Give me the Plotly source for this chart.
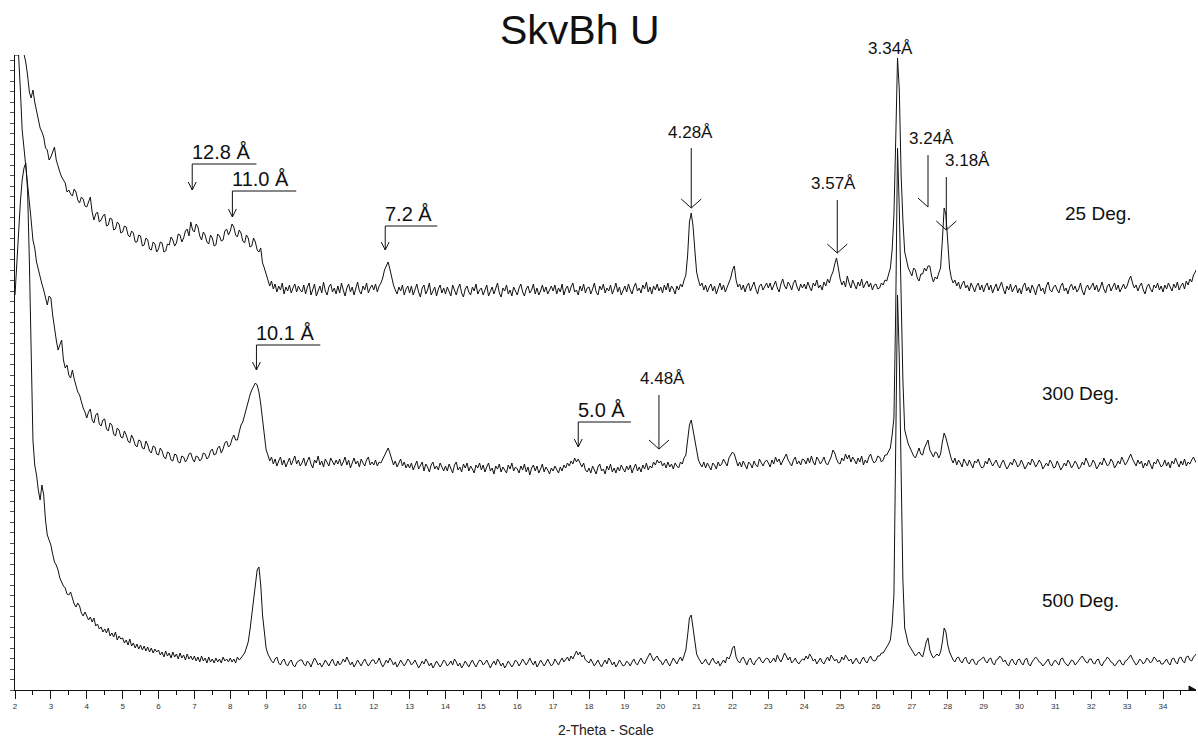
import numpy as np
import plotly.graph_objects as go

# ---------------- data (2-theta step 0.05 deg, starting at 2.00) ----------------
theta_start = 2.0
theta_step = 0.05

counts_25 = [
    310, 305, 300, 292, 285, 276, 268, 255, 238, 232, 240, 228, 218, 210, 202, 198, 193, 182, 180, 170,
    173, 178, 183, 170, 163, 158, 153, 150, 147, 138, 140, 136, 134, 141, 138, 130, 127, 133, 131, 124,
    123, 128, 133, 118, 110, 116, 118, 108, 110, 114, 116, 104, 105, 112, 111, 100, 101, 108, 106, 97,
    98, 104, 103, 95, 93, 99, 97, 88, 88, 95, 94, 84, 85, 92, 90, 81, 80, 88, 86, 78,
    81, 88, 87, 78, 79, 86, 85, 93, 90, 84, 87, 96, 95, 88, 92, 99, 101, 94, 108, 100,
    98, 106, 103, 94, 90, 98, 95, 88, 86, 95, 92, 84, 85, 96, 94, 89, 90, 99, 101, 95,
    99, 106, 103, 95, 93, 100, 97, 89, 87, 95, 92, 83, 84, 92, 88, 80, 78, 82, 67, 62,
    56, 50, 44, 49, 41, 46, 38, 44, 40, 47, 36, 43, 39, 45, 37, 42, 46, 38, 44, 40,
    38, 45, 36, 43, 47, 35, 41, 46, 34, 40, 44, 37, 48, 39, 35, 43, 46, 38, 42, 36,
    44, 37, 47, 40, 34, 42, 46, 38, 43, 35, 41, 48, 39, 36, 44, 40, 47, 37, 42, 45,
    40, 46, 38, 44, 47, 52, 60, 64, 68, 61, 51, 45, 40, 36, 43, 39, 45, 35, 41, 44,
    37, 44, 35, 41, 46, 38, 33, 42, 45, 36, 40, 47, 35, 39, 43, 34, 41, 45, 37, 42,
    36, 43, 39, 34, 45, 40, 35, 42, 46, 37, 33, 41, 44, 38, 35, 43, 39, 46, 36, 40,
    42, 35, 40, 45, 34, 38, 43, 36, 41, 47, 37, 33, 42, 39, 45, 36, 40, 34, 43, 38,
    35, 42, 46, 38, 34, 41, 44, 37, 40, 46, 36, 42, 35, 39, 45, 38, 43, 36, 41, 44,
    39, 45, 36, 42, 38, 46, 35, 41, 44, 37, 43, 47, 38, 40, 35, 44, 39, 46, 37, 42,
    43, 36, 41, 47, 38, 35, 44, 40, 46, 37, 42, 39, 45, 36, 41, 47, 38, 43, 35, 40,
    44, 38, 46, 40, 36, 43, 47, 39, 42, 37, 45, 41, 48, 38, 43, 36, 44, 40, 46, 39,
    43, 37, 45, 40, 47, 38, 44, 41, 36, 44, 40, 46, 43, 50, 55, 75, 108, 117, 104, 80,
    58, 50, 44, 47, 40, 45, 38, 43, 46, 39, 44, 36, 42, 47, 40, 45, 38, 43, 48, 52,
    60, 64, 50, 43, 46, 40, 45, 38, 44, 47, 39, 43, 48, 41, 36, 44, 46, 40, 43, 47,
    42, 47, 40, 45, 49, 42, 38, 46, 51, 44, 41, 48, 45, 40, 47, 50, 43, 39, 46, 42,
    46, 41, 48, 43, 39, 47, 44, 50, 42, 45, 40, 48, 44, 51, 47, 54, 58, 66, 72, 62,
    51, 45, 49, 43, 54, 47, 42, 50, 46, 41, 48, 44, 51, 42, 46, 49, 43, 47, 40, 45,
    46, 41, 42, 47, 45, 50, 49, 55, 62, 80, 115, 190, 272, 240, 155, 110, 78, 70, 62, 58,
    54, 62, 60, 52, 49, 56, 56, 62, 59, 64, 64, 54, 48, 53, 51, 57, 62, 90, 122, 115,
    85, 62, 52, 47, 50, 44, 48, 41, 46, 49, 42, 45, 39, 47, 43, 38, 44, 47, 40, 45,
    38, 44, 47, 40, 45, 37, 42, 46, 39, 43, 48, 41, 36, 44, 40, 46, 38, 42, 45, 37,
    42, 36, 44, 47, 39, 43, 37, 45, 41, 35, 43, 46, 39, 42, 36, 44, 48, 40, 38, 43,
    45, 40, 37, 44, 47, 39, 42, 36, 43, 46, 40, 44, 38, 41, 47, 39, 35, 42, 45, 40,
    43, 47, 40, 45, 38, 42, 48, 41, 37, 44, 46, 39, 43, 47, 40, 45, 38, 42, 46, 41,
    44, 50, 54, 47, 42, 45, 39, 44, 47, 40, 36, 43, 46, 41, 38, 45, 42, 47, 40, 44,
    38, 45, 41, 47, 43, 39, 46, 42, 48, 40, 44, 47, 41, 49, 45, 51, 48, 55, 58, 62,
]

counts_300 = [
    455, 455, 455, 420, 380, 362, 345, 330, 310, 290, 270, 262, 248, 240, 232, 226, 220, 212, 205, 214,
    212, 195, 180, 170, 160, 166, 170, 150, 142, 145, 135, 132, 140, 131, 125, 118, 115, 108, 102, 98,
    92, 98, 101, 90, 87, 95, 97, 86, 84, 90, 91, 81, 79, 87, 85, 76, 74, 82, 80, 73,
    72, 79, 75, 69, 67, 75, 71, 65, 63, 70, 69, 62, 61, 69, 65, 59, 57, 64, 63, 56,
    55, 62, 59, 53, 51, 58, 57, 50, 49, 56, 55, 48, 47, 54, 53, 48, 51, 56, 57, 51,
    48, 54, 53, 49, 51, 57, 56, 51, 53, 59, 61, 55, 56, 62, 64, 57, 61, 67, 69, 63,
    65, 71, 75, 70, 70, 78, 85, 88, 95, 103, 110, 115, 120, 124, 127, 125, 118, 106, 90, 72,
    60, 55, 49, 53, 46, 51, 44, 49, 53, 45, 50, 43, 48, 52, 45, 49, 54, 46, 50, 44,
    47, 52, 44, 49, 53, 46, 42, 50, 47, 54, 45, 49, 43, 51, 47, 44, 52, 48, 45, 50,
    46, 51, 44, 48, 53, 45, 50, 42, 47, 52, 46, 49, 43, 51, 47, 44, 50, 53, 45, 48,
    45, 50, 44, 48, 47, 51, 54, 58, 62, 57, 50, 45, 49, 43, 47, 51, 44, 48, 42, 46,
    42, 47, 40, 45, 49, 41, 44, 48, 39, 46, 43, 38, 45, 48, 41, 44, 40, 47, 43, 39,
    44, 39, 46, 41, 37, 45, 48, 40, 43, 38, 46, 42, 47, 39, 44, 41, 37, 45, 42, 47,
    40, 45, 38, 43, 47, 39, 42, 36, 44, 41, 46, 38, 43, 40, 37, 45, 41, 47, 39, 43,
    41, 37, 44, 40, 46, 38, 43, 35, 42, 45, 39, 44, 37, 41, 46, 38, 43, 40, 36, 42,
    39, 44, 41, 37, 43, 39, 45, 42, 47, 44, 49, 46, 52, 48, 51, 46, 43, 47, 40, 38,
    42, 37, 44, 40, 36, 43, 46, 39, 41, 36, 44, 40, 46, 38, 42, 37, 43, 39, 45, 41,
    38, 44, 40, 45, 37, 42, 46, 39, 43, 38, 45, 41, 47, 40, 44, 42, 48, 45, 50, 47,
    49, 44, 47, 42, 48, 43, 46, 41, 47, 44, 42, 48, 46, 52, 55, 70, 85, 90, 80, 66,
    56, 50, 46, 43, 48, 42, 47, 44, 40, 47, 45, 41, 48, 44, 46, 51, 47, 44, 52, 55,
    58, 56, 50, 44, 48, 43, 49, 45, 41, 48, 46, 42, 49, 45, 43, 51, 47, 44, 48, 50,
    47, 43, 50, 46, 53, 48, 51, 45, 49, 52, 56, 50, 47, 44, 50, 53, 46, 49, 45, 51,
    50, 46, 52, 47, 54, 48, 45, 53, 50, 46, 49, 53, 47, 45, 49, 53, 60, 57, 51, 47,
    46, 52, 49, 56, 51, 55, 48, 53, 50, 46, 52, 48, 54, 45, 50, 47, 53, 56, 50, 47,
    49, 54, 53, 48, 50, 55, 55, 58, 62, 75, 92, 200, 362, 300, 210, 130, 80, 72, 66, 62,
    58, 54, 52, 57, 62, 56, 55, 62, 66, 70, 60, 56, 53, 58, 57, 52, 56, 68, 77, 72,
    64, 56, 51, 47, 52, 45, 50, 47, 43, 51, 48, 44, 50, 46, 42, 49, 47, 51, 45, 42,
    43, 49, 46, 52, 48, 44, 47, 50, 45, 42, 47, 50, 45, 41, 44, 48, 45, 51, 48, 43,
    45, 50, 46, 41, 44, 48, 45, 51, 48, 43, 46, 50, 47, 41, 44, 47, 44, 50, 47, 42,
    43, 49, 45, 40, 43, 47, 44, 50, 47, 42, 45, 49, 46, 41, 43, 48, 45, 52, 48, 43,
    45, 50, 47, 41, 44, 48, 45, 52, 48, 44, 46, 51, 48, 42, 45, 49, 46, 53, 49, 45,
    48, 52, 56, 51, 47, 44, 50, 46, 49, 42, 47, 44, 50, 45, 41, 48, 46, 51, 47, 43,
    45, 50, 44, 48, 42, 49, 46, 52, 47, 43, 49, 45, 51, 44, 48, 46, 50, 53, 49, 46,
]

counts_500 = [
    395, 430, 460, 488, 510, 522, 527, 500, 430, 330, 250, 225, 215, 200, 190, 205, 195, 170, 155, 150,
    145, 136, 128, 125, 120, 112, 108, 104, 102, 96, 95, 98, 92, 86, 83, 87, 84, 77, 74, 78,
    74, 70, 73, 68, 72, 64, 66, 61, 63, 58, 61, 57, 62, 54, 57, 53, 58, 50, 54, 51,
    52, 47, 50, 45, 51, 44, 47, 42, 46, 41, 45, 40, 44, 39, 43, 38, 42, 37, 41, 38,
    40, 35, 38, 33, 39, 34, 37, 32, 38, 33, 36, 31, 37, 32, 35, 30, 36, 31, 34, 30,
    34, 29, 33, 28, 34, 29, 32, 27, 33, 28, 31, 27, 32, 28, 31, 27, 33, 29, 31, 28,
    32, 28, 31, 27, 33, 30, 32, 34, 37, 42, 48, 60, 75, 95, 110, 120, 123, 105, 75, 55,
    42, 36, 32, 29, 27, 31, 33, 27, 25, 29, 31, 26, 24, 28, 30, 25, 23, 27, 29, 30,
    30, 26, 24, 29, 27, 23, 28, 32, 29, 25, 27, 23, 26, 30, 27, 24, 28, 31, 26, 24,
    29, 25, 27, 31, 28, 33, 29, 25, 28, 23, 26, 30, 27, 24, 28, 31, 27, 24, 27, 30,
    30, 26, 28, 32, 27, 23, 26, 30, 27, 32, 29, 25, 28, 23, 26, 30, 27, 24, 27, 31,
    29, 25, 27, 30, 26, 22, 25, 29, 26, 31, 28, 24, 27, 22, 25, 29, 26, 23, 26, 30,
    28, 24, 26, 29, 25, 31, 28, 24, 27, 22, 25, 29, 26, 23, 27, 30, 26, 23, 27, 30,
    29, 25, 27, 30, 26, 22, 26, 29, 25, 31, 28, 24, 27, 22, 25, 29, 26, 23, 26, 30,
    28, 24, 27, 31, 28, 25, 28, 32, 28, 25, 29, 23, 26, 30, 27, 24, 27, 31, 27, 24,
    26, 31, 28, 25, 29, 32, 28, 30, 33, 29, 34, 31, 36, 39, 35, 38, 33, 35, 30, 28,
    27, 31, 28, 24, 27, 30, 26, 23, 27, 30, 26, 32, 29, 25, 28, 23, 26, 30, 27, 24,
    25, 29, 27, 24, 28, 31, 27, 25, 29, 32, 28, 26, 30, 33, 37, 33, 29, 32, 34, 30,
    29, 25, 28, 31, 27, 24, 28, 32, 29, 26, 30, 33, 29, 36, 40, 55, 72, 75, 62, 45,
    36, 32, 29, 26, 28, 31, 27, 25, 29, 32, 28, 26, 29, 24, 27, 30, 27, 33, 31, 35,
    42, 44, 33, 29, 27, 31, 33, 28, 25, 30, 32, 27, 25, 29, 31, 33, 29, 27, 30, 32,
    31, 27, 29, 32, 28, 35, 31, 28, 32, 37, 34, 30, 33, 27, 29, 32, 28, 26, 29, 31,
    30, 34, 31, 36, 33, 29, 31, 26, 29, 32, 28, 26, 30, 33, 29, 35, 32, 29, 31, 27,
    28, 33, 30, 35, 32, 29, 31, 26, 29, 32, 28, 26, 30, 33, 29, 27, 31, 34, 30, 29,
    30, 34, 34, 37, 37, 40, 42, 46, 50, 65, 95, 220, 395, 330, 200, 110, 62, 52, 46, 43,
    40, 37, 34, 36, 38, 35, 33, 40, 48, 52, 40, 35, 32, 34, 36, 34, 38, 48, 62, 58,
    45, 38, 33, 30, 28, 32, 33, 29, 27, 31, 33, 28, 26, 30, 31, 27, 25, 29, 30, 32,
    33, 29, 27, 31, 32, 27, 25, 30, 31, 34, 32, 28, 30, 26, 24, 29, 31, 27, 25, 30,
    31, 27, 25, 30, 32, 26, 24, 28, 30, 33, 31, 28, 27, 24, 26, 29, 31, 26, 24, 28,
    30, 27, 25, 31, 32, 28, 26, 24, 27, 30, 29, 25, 27, 30, 32, 34, 31, 28, 27, 31,
    31, 27, 26, 30, 31, 26, 24, 28, 30, 33, 31, 28, 27, 24, 26, 29, 30, 26, 25, 29,
    30, 32, 35, 31, 28, 25, 27, 31, 29, 26, 28, 32, 30, 27, 29, 33, 31, 28, 30, 26,
    26, 29, 31, 27, 25, 31, 32, 28, 26, 32, 33, 29, 27, 33, 34, 30, 29, 33, 35, 37,
]

# vertical stacking offsets of the three scans
offset_25 = 360
offset_300 = 180
offset_500 = 0

series_names = ["25 Deg.", "300 Deg.", "500 Deg."]
series_label_x = [31.22, 30.58, 30.58]
series_label_y = [477, 297, 90]

# bracket-style d-spacing markers
bracket_text = ["12.8 Å", "11.0 Å", "7.2 Å", "10.1 Å", "5.0 Å"]
bracket_x = [6.94, 8.06, 12.32, 8.73, 17.70]
bracket_x_end = [8.73, 9.84, 13.77, 10.51, 19.17]
bracket_y_line = [526, 499, 464, 345, 268]
bracket_y_tip = [500, 473, 440, 320, 243]

# plain arrow markers
arrow_text = ["4.48Å", "4.28Å", "3.57Å", "3.24Å", "3.18Å"]
arrow_x = [19.95, 20.85, 24.92, 27.45, 27.96]
arrow_y_top = [295, 542, 490, 535, 513]
arrow_y_tip = [241, 482, 437, 483, 460]
arrow_text_x = [20.04, 20.82, 24.81, 27.54, 28.54]
arrow_text_y = [312, 558, 507, 552, 530]
arrow_head = ["both", "both", "both", "left", "both"]

peak_text = "3.34Å"
peak_text_x = 26.41

X_MIN, X_MAX = 2.0, 34.92
Y_MAX = 635

FONT = "Arial, Liberation Sans, sans-serif"

fig = go.Figure()
for vals, off in [(counts_25, offset_25), (counts_300, offset_300), (counts_500, offset_500)]:
    x = np.round(theta_start + theta_step * np.arange(len(vals)), 2)
    fig.add_trace(go.Scatter(
        x=x, y=np.array(vals) + off, mode="lines",
        line=dict(color="#111111", width=1), hoverinfo="skip", showlegend=False,
    ))

shapes = []
annotations = []

def seg(x0, y0, x1, y1):
    shapes.append(dict(type="line", xref="x", yref="y", x0=x0, y0=y0, x1=x1, y1=y1,
                       line=dict(color="#111111", width=1)))

for t, x0, x1, yl, yt in zip(bracket_text, bracket_x, bracket_x_end, bracket_y_line, bracket_y_tip):
    seg(x0, yl, x1, yl)
    seg(x0, yl, x0, yt)
    seg(x0 - 0.11, yt + 8, x0, yt)
    seg(x0 + 0.11, yt + 8, x0, yt)
    annotations.append(dict(x=x0, y=yl + 12, xref="x", yref="y", text=t, showarrow=False,
                            xanchor="left", yanchor="middle", xshift=-2,
                            font=dict(family=FONT, size=20, color="#111111")))

for t, x0, yt0, yt, tx, ty, hd in zip(arrow_text, arrow_x, arrow_y_top, arrow_y_tip,
                                       arrow_text_x, arrow_text_y, arrow_head):
    seg(x0, yt0, x0, yt)
    seg(x0 - 0.28, yt + 9, x0, yt)
    if hd == "both":
        seg(x0 + 0.28, yt + 9, x0, yt)
    annotations.append(dict(x=tx, y=ty, xref="x", yref="y", text=t, showarrow=False,
                            xanchor="center", yanchor="middle",
                            font=dict(family=FONT, size=17, color="#111111")))

annotations.append(dict(x=peak_text_x, y=1.011, xref="x", yref="paper", text=peak_text,
                        showarrow=False, xanchor="center", yanchor="middle",
                        font=dict(family=FONT, size=17, color="#111111")))

for t, x0, y0 in zip(series_names, series_label_x, series_label_y):
    annotations.append(dict(x=x0, y=y0, xref="x", yref="y", text=t, showarrow=False,
                            xanchor="left", yanchor="middle",
                            font=dict(family=FONT, size=19, color="#111111")))

annotations.append(dict(x=0.478, y=1.039, xref="paper", yref="paper", text="SkvBh U",
                        showarrow=False, xanchor="center", yanchor="middle",
                        font=dict(family=FONT, size=41, color="#111111")))
annotations.append(dict(x=0.5, y=-0.063, xref="paper", yref="paper", text="2-Theta - Scale",
                        showarrow=False, xanchor="center", yanchor="middle",
                        font=dict(family=FONT, size=14, color="#222222")))

shapes.append(dict(type="path", xref="x", yref="y", xsizemode="pixel", ysizemode="pixel",
                   xanchor=X_MAX, yanchor=0, path="M -7,0 L 0,0 L -7,4 Z",
                   fillcolor="#111111", line=dict(color="#111111", width=1)))

fig.update_layout(
    width=1198, height=743,
    margin=dict(l=15, r=2, t=55, b=53),
    paper_bgcolor="white", plot_bgcolor="white",
    shapes=shapes, annotations=annotations,
    xaxis=dict(range=[X_MIN, X_MAX], showline=True, linecolor="#111111", linewidth=1,
               ticks="outside", ticklen=8, tickcolor="#111111", tick0=2, dtick=1,
               tickfont=dict(family=FONT, size=8, color="#333333"),
               minor=dict(dtick=0.5, ticks="outside", ticklen=4, tickcolor="#111111"),
               showgrid=False, zeroline=False),
    yaxis=dict(range=[0, Y_MAX], showline=True, linecolor="#111111", linewidth=1,
               ticks="outside", ticklen=4, tickcolor="#555555", tick0=0, dtick=10.5,
               showticklabels=False, showgrid=False, zeroline=False),
)

fig.write_html("out.html")
